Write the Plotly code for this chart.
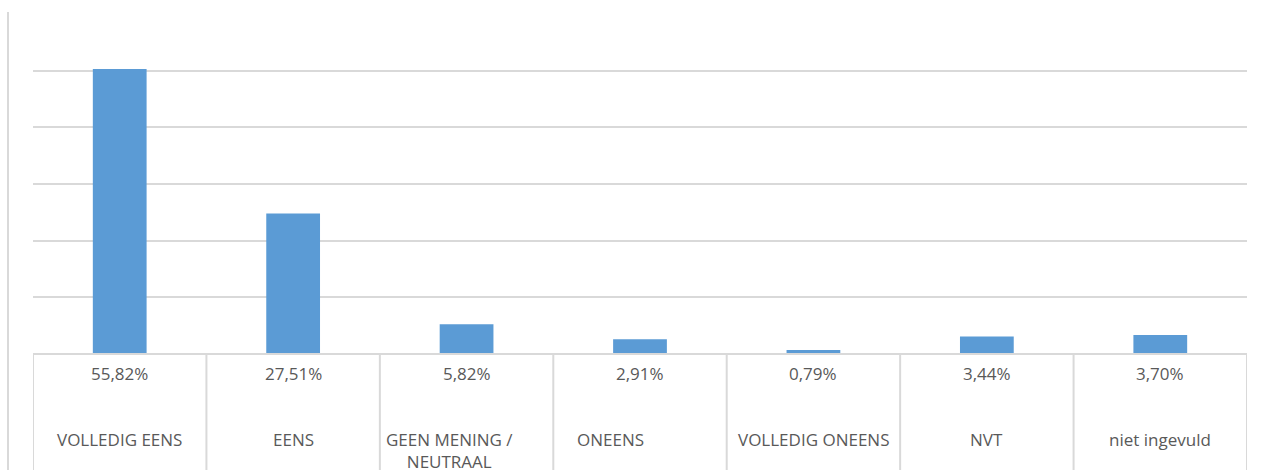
import plotly.graph_objects as go

categories = ["VOLLEDIG EENS", "EENS", "GEEN MENING /<br>NEUTRAAL", "ONEENS",
              "VOLLEDIG ONEENS", "NVT", "niet ingevuld"]
values = [55.82, 27.51, 5.82, 2.91, 0.79, 3.44, 3.70]
value_labels = ["55,82%", "27,51%", "5,82%", "2,91%", "0,79%", "3,44%", "3,70%"]
label_shift = [0, 0, -17, -30, 0, 0, 0]

BAR = "#5B9BD5"
GRID = "#D9D9D9"
TXT = "#595959"
FONT = "Open Sans"
FS = 17

xs = list(range(len(categories)))
fig = go.Figure(go.Bar(x=xs, y=values, marker=dict(color=BAR, line=dict(width=0)),
                       width=0.31, hoverinfo="skip"))

W, H = 1268, 473
ml, mr, mt, mb = 33, 21, 14, 119
plot_h = H - mt - mb

def py(pix):
    return (H - mb - pix) / plot_h

shapes = []
# data table grid
for i in range(len(categories) + 1):
    shapes.append(dict(type="line", xref="x", yref="paper", x0=i - 0.5, x1=i - 0.5,
                       y0=0, y1=py(470), line=dict(color=GRID, width=2)))
shapes.append(dict(type="line", xref="x", yref="paper", x0=-0.5, x1=len(categories) - 0.5,
                   y0=0, y1=0, line=dict(color=GRID, width=2)))
# outer left border
shapes.append(dict(type="line", xref="paper", yref="paper", x0=(8 - ml) / (W - ml - mr),
                   x1=(8 - ml) / (W - ml - mr), y0=py(12), y1=py(470),
                   line=dict(color=GRID, width=2)))

annotations = []
for x, v, c, s in zip(xs, value_labels, categories, label_shift):
    annotations.append(dict(x=x, y=py(373), xref="x", yref="paper", text=v, showarrow=False,
                            font=dict(family=FONT, size=FS, color=TXT), yanchor="middle"))
    annotations.append(dict(x=x, y=py(426), xref="x", yref="paper", text=c, showarrow=False,
                            xshift=s, font=dict(family=FONT, size=FS, color=TXT),
                            yanchor="top", align="center"))

fig.update_layout(
    width=W, height=H,
    margin=dict(l=ml, r=mr, t=mt, b=mb),
    paper_bgcolor="white", plot_bgcolor="white",
    showlegend=False,
    bargap=0.69,
    xaxis=dict(range=[-0.5, len(categories) - 0.5], showticklabels=False, showgrid=False,
               zeroline=False, showline=False, fixedrange=True),
    yaxis=dict(range=[0, 66.62], dtick=11.1, tick0=0, showticklabels=False, showgrid=True,
               gridcolor=GRID, gridwidth=2, zeroline=False, showline=False, fixedrange=True),
    shapes=shapes, annotations=annotations,
)

fig.write_html("out.html", config={"displayModeBar": False},
               post_script="document.body.style.margin='0';document.body.style.overflow='hidden';")
